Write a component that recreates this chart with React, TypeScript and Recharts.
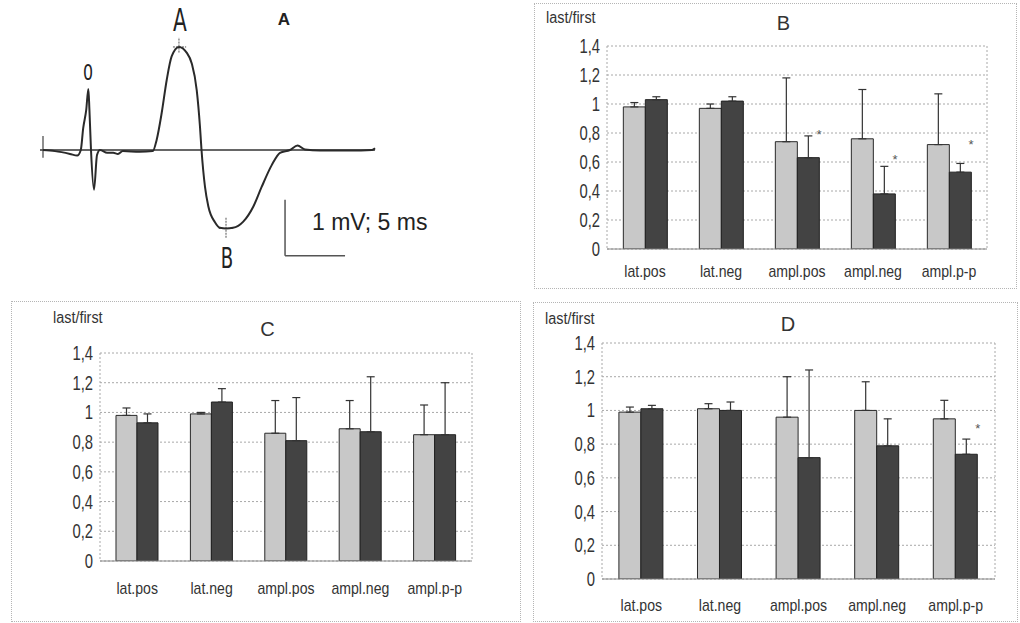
import React from 'react'
import {
  ComposedChart,
  Bar,
  ErrorBar,
  Scatter,
  XAxis,
  YAxis,
  CartesianGrid,
  LineChart,
  Line,
  ReferenceLine,
} from 'recharts'

const FONT = '"Liberation Sans", Arial, sans-serif'
const COND = '"DejaVu Sans Condensed", "Liberation Sans Narrow", sans-serif'
const TEXT = '#333'
const LIGHT = '#c8c8c8'
const DARK = '#434343'

const CATEGORIES = ['lat.pos', 'lat.neg', 'ampl.pos', 'ampl.neg', 'ampl.p-p']
const Y_TICKS = [0, 0.2, 0.4, 0.6, 0.8, 1, 1.2, 1.4]

// panel B
const B_LIGHT = [0.98, 0.97, 0.74, 0.76, 0.72]
const B_LIGHT_ERR = [0.03, 0.03, 0.44, 0.34, 0.35]
const B_DARK = [1.03, 1.02, 0.63, 0.38, 0.53]
const B_DARK_ERR = [0.02, 0.03, 0.15, 0.19, 0.06]
const B_STARS = [null, null, 0.8, 0.63, 0.73]

// panel C
const C_LIGHT = [0.98, 0.99, 0.86, 0.89, 0.85]
const C_LIGHT_ERR = [0.05, 0.01, 0.22, 0.19, 0.2]
const C_DARK = [0.93, 1.07, 0.81, 0.87, 0.85]
const C_DARK_ERR = [0.06, 0.09, 0.29, 0.37, 0.35]
const C_STARS = [null, null, null, null, null]

// panel D
const D_LIGHT = [0.99, 1.01, 0.96, 1.0, 0.95]
const D_LIGHT_ERR = [0.03, 0.03, 0.24, 0.17, 0.11]
const D_DARK = [1.01, 1.0, 0.72, 0.79, 0.74]
const D_DARK_ERR = [0.02, 0.05, 0.52, 0.16, 0.09]
const D_STARS = [null, null, null, null, 0.9]

// panel A: evoked response trace, time in ms, amplitude in mV
const TRACE_MS = [
  0.25, 1.25, 2.5, 3.1, 3.4, 3.6, 3.85, 4.03, 4.12, 4.25, 4.5, 4.75, 5.0, 5.6, 6.1, 6.5, 6.9,
  8.3, 9.4, 9.72, 10.14, 10.56, 10.97, 11.58, 12.22, 12.64, 13.06, 13.33, 13.46, 13.75, 14.03,
  14.58, 15.0, 15.5, 16.08, 16.94, 17.78, 18.47, 19.31, 20.0, 20.83, 21.46, 22.08, 23.33, 25.83,
  27.67, 27.92,
]
const TRACE_MV = [
  0, -0.02, -0.07, -0.1, 0, 0.39, 0.71, 1.09, 0.71, 0, -0.71, -0.09, 0, -0.05, -0.05, -0.07, -0.02,
  -0.03, -0.02, 0.18, 0.66, 1.25, 1.67, 1.84, 1.74, 1.55, 1.07, 0.42, 0, -0.66, -1.01,
  -1.29, -1.39, -1.4, -1.39, -1.28, -1.01, -0.66, -0.27, -0.05, 0, 0.08, 0.01, -0.01, -0.01,
  0, 0.03,
]
const TRACE_END = 27.92
const PEAK_A = { t: 11.58, v: 1.84 }
const PEAK_B = { t: 15.5, v: -1.4 }
// calibration bar: 1 mV tall, 5 ms wide
const CAL = { t: 20.42, v: -1.89, mv: 1, ms: 5 }

// drawing scale for the trace
const PX_PER_MS = 12
const PX_PER_MV = 56
const TRACE_LEFT_PX = 40
const BASELINE_PX = 150
const TRACE_W = 480
const TRACE_H = 290

const fmtTick = (v: number) => (Number.isInteger(v) ? String(v) : v.toFixed(1).replace('.', ','))

function buildRows(light: number[], lightErr: number[], dark: number[], darkErr: number[], stars: (number | null)[]) {
  return CATEGORIES.map((cat, i) => ({
    cat,
    light: light[i],
    lightErr: [0, lightErr[i]],
    dark: dark[i],
    darkErr: [0, darkErr[i]],
    star: stars[i],
  }))
}

// narrow, tall lettering like the old spreadsheet output
function YTick({ x, y, payload }: any) {
  return (
    <g transform={`translate(${x},${y})`}>
      <text
        textAnchor="end"
        dy="0.36em"
        transform="scale(0.76,1)"
        fontSize={19.5}
        fill={TEXT}
        fontFamily={FONT}
      >
        {fmtTick(payload.value)}
      </text>
    </g>
  )
}

function XTick({ x, y, payload }: any) {
  return (
    <g transform={`translate(${x},${y})`}>
      <text
        textAnchor="middle"
        dy="0.71em"
        transform="scale(0.88,1)"
        fontSize={16}
        fill={TEXT}
        fontFamily={FONT}
      >
        {payload.value}
      </text>
    </g>
  )
}

function StarShape(props: any) {
  const { cx, cy, payload } = props
  if (payload == null || payload.star == null || cy == null || isNaN(cy)) return <g />
  return (
    <text x={cx + 22} y={cy + 6} textAnchor="middle" fontSize={13} fill="#555" fontFamily={FONT}>
      *
    </text>
  )
}

interface PanelProps {
  left: number
  top: number
  width: number
  height: number
  title: string
  titleX: number
  titleY: number
  unitX: number
  unitY: number
  marginTop: number
  marginRight: number
  yWidth: number
  xHeight: number
  xGap: number
  rows: any[]
}

function BarPanel(p: PanelProps) {
  return (
    <div style={{ position: 'absolute', left: p.left, top: p.top, width: p.width, height: p.height }}>
      <div
        style={{
          position: 'absolute',
          inset: 0,
          border: '1px dotted #b5b5b5',
          boxSizing: 'border-box',
          pointerEvents: 'none',
        }}
      />
      <ComposedChart
        width={p.width}
        height={p.height}
        data={p.rows}
        margin={{ top: p.marginTop, right: p.marginRight, bottom: 0, left: 0 }}
        barCategoryGap="21.5%"
        barGap={0}
      >
        <CartesianGrid
          stroke="#a8a8a8"
          strokeDasharray="2 2"
          verticalCoordinatesGenerator={({ offset }: any) => [offset.left, offset.left + offset.width]}
        />
        <XAxis
          dataKey="cat"
          height={p.xHeight}
          tickLine={false}
          tickSize={0}
          tickMargin={p.xGap}
          axisLine={{ stroke: '#888' }}
          tick={<XTick />}
          interval={0}
        />
        <YAxis
          width={p.yWidth}
          domain={[0, 1.4]}
          ticks={Y_TICKS}
          axisLine={false}
          tickLine={false}
          tickSize={0}
          tickMargin={7}
          tick={<YTick />}
          allowDataOverflow
        />
        <Bar dataKey="light" fill={LIGHT} stroke="#2a2a2a" strokeWidth={1} isAnimationActive={false}>
          <ErrorBar dataKey="lightErr" width={4} stroke="#333" strokeWidth={1.2} direction="y" />
        </Bar>
        <Bar dataKey="dark" fill={DARK} stroke="#222" strokeWidth={1} isAnimationActive={false}>
          <ErrorBar dataKey="darkErr" width={4} stroke="#333" strokeWidth={1.2} direction="y" />
        </Bar>
        <Scatter dataKey="star" shape={<StarShape />} isAnimationActive={false} />
      </ComposedChart>
      <div
        style={{
          position: 'absolute',
          left: p.unitX,
          top: p.unitY,
          fontFamily: FONT,
          fontSize: 16,
          lineHeight: 1,
          color: TEXT,
          whiteSpace: 'nowrap',
          transform: 'scaleX(0.9)',
          transformOrigin: 'left top',
        }}
      >
        last/first
      </div>
      <div
        style={{
          position: 'absolute',
          left: p.titleX,
          top: p.titleY,
          transform: 'translateX(-50%)',
          fontFamily: FONT,
          fontSize: 20,
          lineHeight: 1,
          color: TEXT,
        }}
      >
        {p.title}
      </div>
    </div>
  )
}

function TracePanel() {
  const data = TRACE_MS.map((t, i) => ({ t, v: TRACE_MV[i] }))
  const xMin = -TRACE_LEFT_PX / PX_PER_MS
  const xMax = (TRACE_W - TRACE_LEFT_PX) / PX_PER_MS
  const yMax = BASELINE_PX / PX_PER_MV
  const yMin = -(TRACE_H - BASELINE_PX) / PX_PER_MV
  const mark = { stroke: '#555', strokeWidth: 1, strokeDasharray: '2 1', ifOverflow: 'visible' as const }
  return (
    <div style={{ position: 'absolute', left: 0, top: 0, width: TRACE_W, height: TRACE_H }}>
      <LineChart width={TRACE_W} height={TRACE_H} data={data} margin={{ top: 0, right: 0, bottom: 0, left: 0 }}>
        <XAxis type="number" dataKey="t" domain={[xMin, xMax]} hide allowDataOverflow />
        <YAxis type="number" domain={[yMin, yMax]} hide allowDataOverflow />
        <ReferenceLine
          segment={[{ x: 0, y: 0 }, { x: TRACE_END, y: 0 }]}
          stroke="#333"
          strokeWidth={1.3}
          ifOverflow="visible"
        />
        <ReferenceLine
          segment={[{ x: 0.25, y: 0.25 }, { x: 0.25, y: -0.14 }]}
          stroke="#444"
          strokeWidth={1.2}
          ifOverflow="visible"
        />
        <ReferenceLine segment={[{ x: PEAK_A.t - 0.5, y: PEAK_A.v }, { x: PEAK_A.t + 0.6, y: PEAK_A.v }]} {...mark} />
        <ReferenceLine segment={[{ x: PEAK_A.t, y: PEAK_A.v - 0.1 }, { x: PEAK_A.t, y: PEAK_A.v + 0.17 }]} {...mark} />
        <ReferenceLine segment={[{ x: PEAK_B.t - 0.6, y: PEAK_B.v }, { x: PEAK_B.t + 0.6, y: PEAK_B.v }]} {...mark} />
        <ReferenceLine segment={[{ x: PEAK_B.t, y: PEAK_B.v + 0.19 }, { x: PEAK_B.t, y: PEAK_B.v - 0.17 }]} {...mark} />
        <ReferenceLine
          segment={[{ x: CAL.t, y: CAL.v + CAL.mv }, { x: CAL.t, y: CAL.v }]}
          stroke="#555"
          strokeWidth={1.5}
          ifOverflow="visible"
        />
        <ReferenceLine
          segment={[{ x: CAL.t, y: CAL.v }, { x: CAL.t + CAL.ms, y: CAL.v }]}
          stroke="#555"
          strokeWidth={1.5}
          ifOverflow="visible"
        />
        <Line
          dataKey="v"
          type="monotone"
          stroke="#2a2a2a"
          strokeWidth={2}
          dot={false}
          activeDot={false}
          isAnimationActive={false}
        />
      </LineChart>
      <div style={{ position: 'absolute', left: 88, top: 62, transform: 'translateX(-50%) scaleX(0.8)', fontFamily: COND, fontSize: 22, lineHeight: 1, color: '#222' }}>
        0
      </div>
      <div style={{ position: 'absolute', left: 180, top: 4, transform: 'translateX(-50%) scaleX(0.7)', fontFamily: COND, fontSize: 32, lineHeight: 1, color: '#222' }}>
        A
      </div>
      <div style={{ position: 'absolute', left: 226.5, top: 245, transform: 'translateX(-50%) scaleX(0.72)', fontFamily: COND, fontSize: 28, lineHeight: 1, color: '#222' }}>
        B
      </div>
      <div style={{ position: 'absolute', left: 284, top: 11, transform: 'translateX(-50%)', fontFamily: FONT, fontWeight: 700, fontSize: 17, lineHeight: 1, color: '#222' }}>
        A
      </div>
      <div style={{ position: 'absolute', left: 312, top: 211, fontFamily: FONT, fontSize: 23, lineHeight: 1, color: '#222', whiteSpace: 'nowrap' }}>
        1 mV; 5 ms
      </div>
    </div>
  )
}

export default function App() {
  return (
    <div
      style={{
        position: 'absolute',
        left: 0,
        top: 0,
        width: 1020,
        height: 623,
        background: '#fff',
        overflow: 'hidden',
      }}
    >
      <TracePanel />
      <BarPanel
        left={534}
        top={3}
        width={483}
        height={286}
        title="B"
        titleX={249.5}
        titleY={9.5}
        unitX={12}
        unitY={7}
        marginTop={43}
        marginRight={30}
        yWidth={73}
        xHeight={40}
        xGap={17}
        rows={buildRows(B_LIGHT, B_LIGHT_ERR, B_DARK, B_DARK_ERR, B_STARS)}
      />
      <BarPanel
        left={11}
        top={301}
        width={510}
        height={321}
        title="C"
        titleX={256.5}
        titleY={17.5}
        unitX={42}
        unitY={9}
        marginTop={52}
        marginRight={49}
        yWidth={89}
        xHeight={61}
        xGap={22}
        rows={buildRows(C_LIGHT, C_LIGHT_ERR, C_DARK, C_DARK_ERR, C_STARS)}
      />
      <BarPanel
        left={533}
        top={302}
        width={485}
        height={320}
        title="D"
        titleX={255}
        titleY={11.5}
        unitX={12}
        unitY={9}
        marginTop={41}
        marginRight={23}
        yWidth={69}
        xHeight={43}
        xGap={21}
        rows={buildRows(D_LIGHT, D_LIGHT_ERR, D_DARK, D_DARK_ERR, D_STARS)}
      />
    </div>
  )
}
